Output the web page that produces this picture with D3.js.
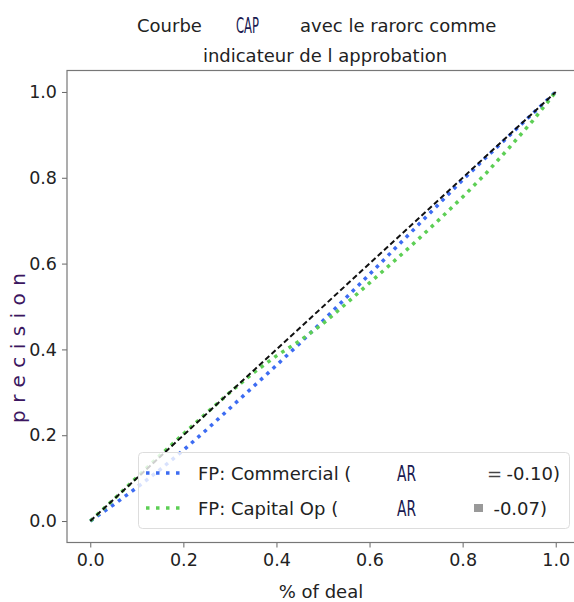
<!DOCTYPE html>
<html>
<head>
<meta charset="utf-8">
<script src="https://cdn.jsdelivr.net/npm/d3@7/dist/d3.min.js"></script>
<style>
  html, body { margin: 0; padding: 0; background: #fff; }
  svg { display: block; font-family: "DejaVu Sans", sans-serif; }
</style>
</head>
<body>
<svg id="chart" width="574" height="602"></svg>
<script>
// Share of deals reviewed (x) against cumulative precision (y)
const dealShare = [0, 0.05, 0.1, 0.15, 0.2, 0.25, 0.3, 0.35, 0.4, 0.45, 0.5,
                   0.55, 0.6, 0.65, 0.7, 0.75, 0.8, 0.85, 0.9, 0.95, 1.0];
const commercial = [0, 0.038, 0.078, 0.12, 0.165, 0.213, 0.263, 0.313, 0.363, 0.414, 0.467,
                    0.521, 0.575, 0.63, 0.685, 0.74, 0.795, 0.847, 0.898, 0.949, 1.0];
const capitalOp  = [0, 0.05, 0.102, 0.153, 0.203, 0.252, 0.3, 0.345, 0.385, 0.42, 0.46,
                    0.507, 0.555, 0.603, 0.652, 0.703, 0.755, 0.81, 0.87, 0.932, 1.0];
const randomX = [0, 1];
const randomY = [0, 1];
const tickValues = [0, 0.2, 0.4, 0.6, 0.8, 1.0];
const seriesNames = ["FP: Commercial (", "FP: Capital Op ("];
const seriesScores = ["-0.10)", "-0.07)"];

(function () {
const svg = d3.select("#chart");
const pLeft = 67, pRight = 579, pTop = 70.5, pBottom = 542.5;

const x = d3.scaleLinear().domain([-0.05, 1.05]).range([pLeft, pRight]);
const y = d3.scaleLinear().domain([-0.05, 1.05]).range([pBottom, pTop]);

svg.append("defs").append("clipPath").attr("id", "plot-clip")
  .append("rect").attr("x", pLeft).attr("y", pTop)
  .attr("width", pRight - pLeft).attr("height", pBottom - pTop);

const plot = svg.append("g").attr("clip-path", "url(#plot-clip)");
const line = d3.line().x(d => x(d[0])).y(d => y(d[1]));

const series = [
  { pts: d3.zip(dealShare, commercial), color: "#3d6cf2" },
  { pts: d3.zip(dealShare, capitalOp), color: "#5dcf55" }
];

series.forEach(s => {
  plot.append("path").datum(s.pts)
    .attr("d", line).attr("fill", "none")
    .attr("stroke", s.color).attr("stroke-width", 3.5)
    .attr("stroke-dasharray", "3.5,5");
});

plot.append("path").datum(d3.zip(randomX, randomY))
  .attr("d", line).attr("fill", "none")
  .attr("stroke", "#111").attr("stroke-width", 2)
  .attr("stroke-dasharray", "5.5,3");

// Axes
const xAxis = d3.axisBottom(x).tickValues(tickValues).tickFormat(d3.format(".1f"))
  .tickSize(5).tickPadding(6);
const yAxis = d3.axisLeft(y).tickValues(tickValues).tickFormat(d3.format(".1f"))
  .tickSize(5).tickPadding(5);

const gx = svg.append("g").attr("transform", `translate(0,${pBottom})`).call(xAxis);
const gy = svg.append("g").attr("transform", `translate(${pLeft},0)`).call(yAxis);
[gx, gy].forEach(g => {
  g.select(".domain").remove();
  g.selectAll(".tick line").attr("stroke", "#666");
  g.selectAll(".tick text").attr("fill", "#222")
    .style("font-size", "17.5px").style("font-family", "DejaVu Sans");
});

// Spines
svg.append("rect").attr("x", pLeft).attr("y", pTop)
  .attr("width", pRight - pLeft).attr("height", pBottom - pTop)
  .attr("fill", "none").attr("stroke", "#777").attr("stroke-width", 1.2);

// Legend
const lg = svg.append("g");
lg.append("rect").attr("x", 138.5).attr("y", 452.5).attr("width", 431).attr("height", 76)
  .attr("rx", 4).attr("fill", "#fff").attr("fill-opacity", 0.8)
  .attr("stroke", "#ddd").attr("stroke-width", 1);

const rowsY = [473, 508];
series.forEach((s, i) => {
  lg.append("line").attr("x1", 146).attr("x2", 182)
    .attr("y1", rowsY[i]).attr("y2", rowsY[i])
    .attr("stroke", s.color).attr("stroke-width", 3.5).attr("stroke-dasharray", "3.5,6.5");
  lg.append("text").attr("x", 198).attr("y", rowsY[i] + 6.5)
    .attr("fill", "#222").style("font-size", "18px").text(seriesNames[i]);
  lg.append("text").attr("x", 397).attr("y", rowsY[i] + 7.5)
    .attr("fill", "#1a1a50").style("font-size", "21px")
    .style("font-family", "Liberation Sans Narrow, DejaVu Sans Condensed, sans-serif")
    .attr("textLength", 19).attr("lengthAdjust", "spacingAndGlyphs").text("AR");
  lg.append("text").attr("x", 560 - i * 13).attr("y", rowsY[i] + 6.5)
    .attr("text-anchor", "end").attr("fill", "#222").style("font-size", "18px")
    .text(seriesScores[i]);
});
lg.append("text").attr("x", 487).attr("y", rowsY[0] + 6.5)
  .attr("fill", "#444").style("font-size", "18px").text("=");
lg.append("rect").attr("x", 474).attr("y", rowsY[1] - 4).attr("width", 9).attr("height", 8)
  .attr("fill", "#999");

// Title
const t = svg.append("g").attr("fill", "#222").style("font-size", "18px");
t.append("text").attr("x", 137).attr("y", 32).text("Courbe");
t.append("text").attr("x", 236).attr("y", 33).attr("fill", "#1a1a50")
  .style("font-size", "21px")
  .style("font-family", "Liberation Sans Narrow, DejaVu Sans Condensed, sans-serif")
  .attr("textLength", 23).attr("lengthAdjust", "spacingAndGlyphs").text("CAP");
t.append("text").attr("x", 300).attr("y", 32).text("avec le rarorc comme");
t.append("text").attr("x", 325).attr("y", 62).attr("text-anchor", "middle")
  .text("indicateur de l approbation");

// Axis labels
svg.append("text").attr("x", 321).attr("y", 598).attr("text-anchor", "middle")
  .attr("fill", "#222").style("font-size", "18px").text("% of deal");
svg.append("text").attr("transform", "translate(25,348) rotate(-90)")
  .attr("text-anchor", "middle").attr("fill", "#3b1660").style("font-size", "20px")
  .attr("textLength", 150).attr("lengthAdjust", "spacing").text("precision");
})();
</script>
</body>
</html>
